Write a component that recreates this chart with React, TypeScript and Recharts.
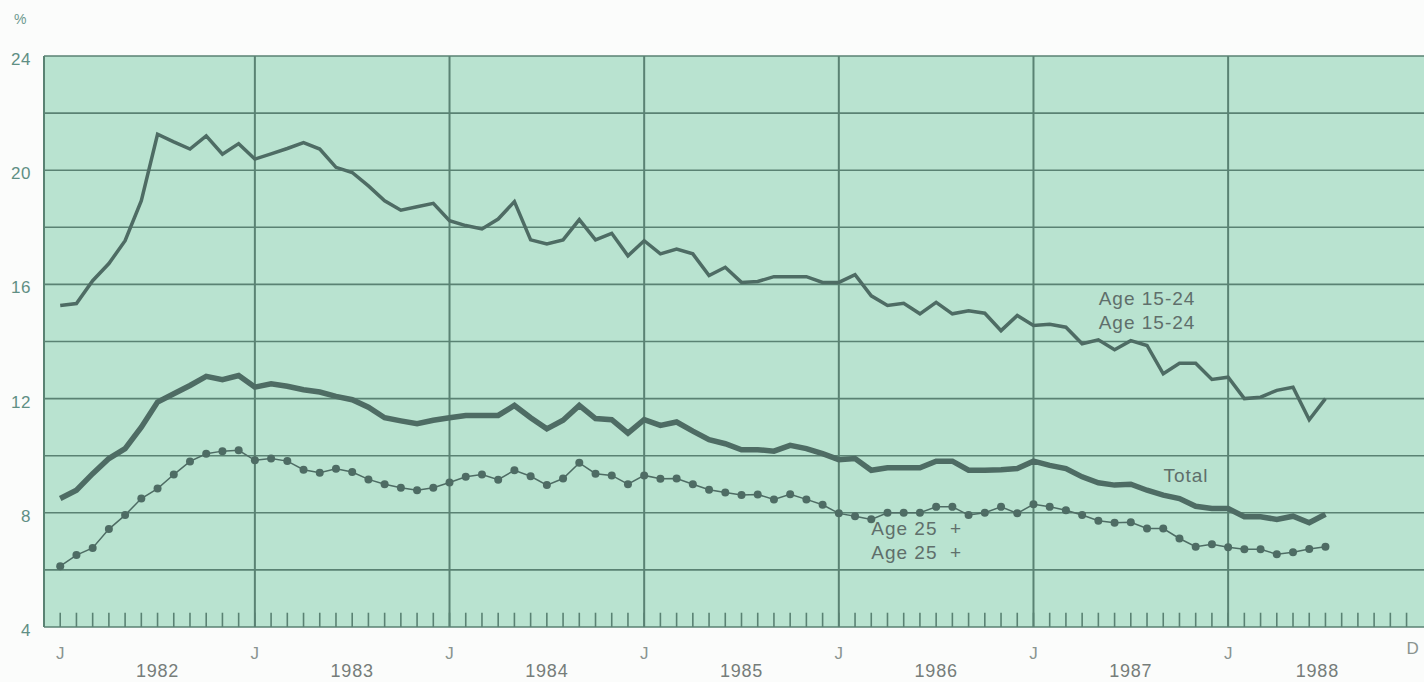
import { LineChart, Line, XAxis, YAxis, CartesianGrid, ReferenceLine, ReferenceDot } from 'recharts';

// monthly unemployment rate, Jan 1982 .. Jul 1988 (%)
const age1524 = [
  15.26, 15.33, 16.13, 16.73, 17.53, 18.93, 21.26, 20.99, 20.74, 21.2, 20.56, 20.93,
  20.39, 20.57, 20.76, 20.97, 20.74, 20.1, 19.92, 19.45, 18.93, 18.6, 18.72, 18.84,
  18.23, 18.06, 17.94, 18.29, 18.9, 17.56, 17.42, 17.56, 18.27, 17.56, 17.79, 17.0,
  17.53, 17.07, 17.24, 17.07, 16.31, 16.6, 16.07, 16.1, 16.27, 16.27, 16.27, 16.07,
  16.07, 16.34, 15.6, 15.26, 15.34, 14.97, 15.37, 14.97, 15.08, 14.99, 14.38, 14.91,
  14.56, 14.6, 14.5, 13.92, 14.06, 13.71, 14.03, 13.86, 12.87, 13.24, 13.24, 12.67,
  12.75, 12.0, 12.05, 12.29, 12.4, 11.26, 12.0,
];

const total = [
  8.5, 8.79, 9.37, 9.9, 10.25, 11.0, 11.88, 12.17, 12.46, 12.78, 12.66, 12.81,
  12.4, 12.52, 12.43, 12.31, 12.23, 12.08, 11.96, 11.7, 11.33, 11.22, 11.12, 11.24,
  11.33, 11.41, 11.41, 11.41, 11.76, 11.33, 10.94, 11.24, 11.76, 11.3, 11.26, 10.79,
  11.26, 11.06, 11.18, 10.86, 10.56, 10.42, 10.21, 10.21, 10.16, 10.36, 10.25, 10.07,
  9.86, 9.9, 9.49, 9.58, 9.58, 9.58, 9.81, 9.81, 9.49, 9.49, 9.51, 9.55,
  9.81, 9.66, 9.55, 9.26, 9.05, 8.97, 9.0, 8.79, 8.62, 8.5, 8.23, 8.15,
  8.15, 7.86, 7.86, 7.77, 7.88, 7.65, 7.95,
];

const age25plus = [
  6.13, 6.52, 6.77, 7.43, 7.92, 8.5, 8.85, 9.34, 9.8, 10.07, 10.16, 10.19,
  9.84, 9.9, 9.81, 9.51, 9.4, 9.54, 9.43, 9.17, 9.0, 8.88, 8.79, 8.88,
  9.06, 9.26, 9.34, 9.16, 9.49, 9.28, 8.97, 9.2, 9.75, 9.37, 9.31, 9.0,
  9.31, 9.19, 9.2, 9.0, 8.81, 8.71, 8.62, 8.64, 8.47, 8.65, 8.47, 8.28,
  7.98, 7.88, 7.77, 8.0, 8.0, 8.0, 8.21, 8.21, 7.92, 8.0, 8.21, 7.98,
  8.3, 8.21, 8.09, 7.92, 7.72, 7.65, 7.67, 7.45, 7.45, 7.1, 6.81, 6.9,
  6.79, 6.72, 6.72, 6.55, 6.62, 6.73, 6.81,
];

// x axis: month index from Jan 1982 (0)
const januaryTicks = [0, 12, 24, 36, 48, 60, 72];
const decemberTick = 83;
const yearTicks = [6, 18, 30, 42, 54, 66, 77.5];
const yearLabels = ['1982', '1983', '1984', '1985', '1986', '1987', '1988'];
const monthTicks = Array.from({ length: 84 }, (_, i) => i);

const yTicks = [4, 6, 8, 10, 12, 14, 16, 18, 20, 22, 24];

const data = age1524.map((v, i) => ({
  m: i,
  youth: v,
  total: total[i],
  adult: age25plus[i],
}));

const BG = '#b9e3d0';
const GRID = '#5a8273';
const INK = '#4e6c64';
const LABEL = '#5f6f6b';

const MonthTick = (props: any) => {
  const { x, y, payload } = props;
  const v = payload.value;
  if (v === decemberTick) {
    return <text x={x + 6} y={y + 19} textAnchor="middle" fill="#8a9490" fontSize={17}>D</text>;
  }
  const yi = yearTicks.indexOf(v);
  if (yi >= 0) {
    return (
      <text x={x} y={y + 42} textAnchor="middle" fill="#767d7a" fontSize={18} letterSpacing={0.8}>
        {yearLabels[yi]}
      </text>
    );
  }
  return <text x={x} y={y + 24} textAnchor="middle" fill="#8a9490" fontSize={17}>J</text>;
};

const textStyle = { fill: LABEL, fontSize: 19, letterSpacing: 1 };

export default function App() {
  return (
    <div style={{ position: 'absolute', left: 0, top: 0, width: 1424, height: 682, overflow: 'hidden', background: '#fbfcfb', fontFamily: '"Liberation Sans", Arial, sans-serif' }}>
      <div style={{ position: 'absolute', left: 14, top: 11, fontSize: 14, color: '#6d9a8f' }}>%</div>
      <LineChart width={1440} height={682} data={data} margin={{ top: 56, right: 1, bottom: 0, left: 0 }}>
        <CartesianGrid vertical={false} fill={BG} stroke={GRID} strokeWidth={1.6} strokeOpacity={1} />
        <XAxis
          dataKey="m"
          type="number"
          domain={[-1, 85]}
          ticks={[...januaryTicks, ...yearTicks, decemberTick]}
          tick={<MonthTick />}
          tickLine={false}
          axisLine={false}
          height={55}
          interval={0}
          allowDataOverflow
        />
        <YAxis
          type="number"
          domain={[4, 24]}
          ticks={yTicks}
          tickFormatter={(v) => (v % 4 === 0 ? String(v) : '')}
          width={44}
          tickLine={false}
          tickSize={0}
          tickMargin={13}
          axisLine={{ stroke: GRID, strokeWidth: 2 }}
          tick={{ fill: '#5f8f84', fontSize: 17, letterSpacing: 0.5, dy: 3 }}
          interval={0}
        />
        {januaryTicks.slice(1).map((m) => (
          <ReferenceLine key={'j' + m} x={m} stroke={GRID} strokeWidth={2} />
        ))}
        {monthTicks.map((m) => (
          <ReferenceLine key={'t' + m} segment={[{ x: m, y: 4 }, { x: m, y: 4.5 }]} stroke={GRID} strokeWidth={1.6} />
        ))}
        <Line dataKey="youth" type="linear" stroke={INK} strokeWidth={3.5} dot={false} isAnimationActive={false} />
        <Line dataKey="total" type="linear" stroke={INK} strokeWidth={5.5} dot={false} isAnimationActive={false} />
        <Line
          dataKey="adult"
          type="linear"
          stroke={INK}
          strokeWidth={1.5}
          dot={{ r: 4, fill: INK, stroke: 'none' }}
          isAnimationActive={false}
        />
        <ReferenceDot x={67} y={15.5} r={0} fill="none" stroke="none" label={{ value: 'Age 15-24', position: 'center', ...textStyle }} />
        <ReferenceDot x={67} y={14.66} r={0} fill="none" stroke="none" label={{ value: 'Age 15-24', position: 'center', ...textStyle }} />
        <ReferenceDot x={69.4} y={9.31} r={0} fill="none" stroke="none" label={{ value: 'Total', position: 'center', ...textStyle }} />
        <ReferenceDot x={52.8} y={7.46} r={0} fill="none" stroke="none" label={{ value: 'Age 25\u00a0 +', position: 'center', ...textStyle }} />
        <ReferenceDot x={52.8} y={6.62} r={0} fill="none" stroke="none" label={{ value: 'Age 25\u00a0 +', position: 'center', ...textStyle }} />
      </LineChart>
    </div>
  );
}
